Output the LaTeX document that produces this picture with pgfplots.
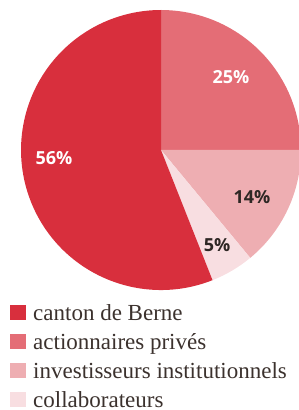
\documentclass[border=0pt]{standalone}
\usepackage{pgfplots}
\pgfplotsset{compat=1.18}
\usepackage{fontspec}
\setmainfont{Liberation Serif}
\newfontfamily\lblfont{Open Sans}
\definecolor{cA}{HTML}{E46D76}
\definecolor{cB}{HTML}{EEAEB2}
\definecolor{cC}{HTML}{F8DEE1}
\definecolor{cD}{HTML}{D82F3D}
\definecolor{txt}{HTML}{3B312D}
\definecolor{lbldark}{HTML}{2E2724}
\begin{document}
\begin{tikzpicture}
\begin{axis}[
  scale only axis, width=299pt, height=410pt,
  xmin=-161, xmax=138, ymin=-260, ymax=150,
  hide axis, clip=false,
]
\pgfplotsextra{
  \gdef\curang{90}
  % value / colour / label colour / label x / label y
  \foreach \v/\c/\lc/\lx/\ly in {25/cA/white/70/73, 14/cB/lbldark/91/-47, 5/cC/lbldark/56/-95, 56/cD/white/-107/-8} {
    \pgfmathsetmacro\endang{\curang-3.6*\v}
    \fill[\c] (axis cs:0,0) -- (axis cs:{140*cos(\curang)},{140*sin(\curang)}) arc[start angle=\curang, end angle=\endang, radius=140pt] -- cycle;
    \node[text=\lc, font=\lblfont\bfseries\fontsize{18}{18}\selectfont] at (axis cs:\lx,\ly) {\v\%};
    \xdef\curang{\endang}
  }
  \foreach \c/\t [count=\i from 0] in {cD/canton de Berne, cA/actionnaires privés, cB/investisseurs institutionnels, cC/collaborateurs} {
    \pgfmathsetmacro\yb{-171-29*\i}
    \fill[\c] (axis cs:-151,\yb+1) rectangle (axis cs:-135,\yb+16);
    \node[anchor=base west, inner sep=0pt, text=txt, font=\fontsize{23}{23}\selectfont] at (axis cs:-128,\yb) {\t};
  }
}
\end{axis}
\pgfresetboundingbox
\useasboundingbox (current axis.south west) rectangle (current axis.north east);
\end{tikzpicture}
\end{document}
